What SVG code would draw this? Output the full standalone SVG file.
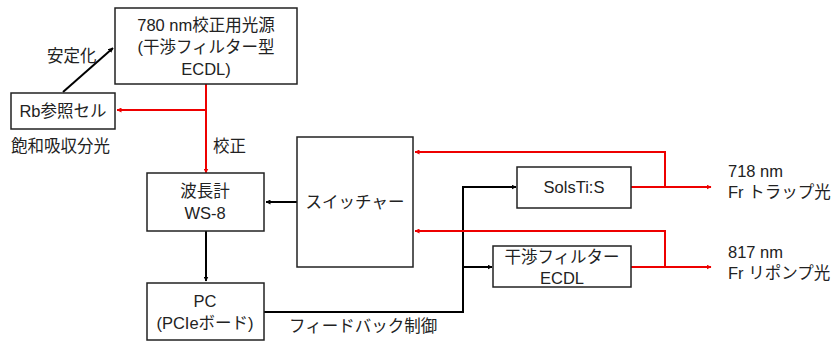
<svg xmlns="http://www.w3.org/2000/svg" width="835" height="341" viewBox="0 0 835 341">
<style>
text{font-family:"Liberation Sans","Noto Sans CJK JP",sans-serif;font-size:16.5px;fill:#222;}
.c{text-anchor:middle;}
.box{fill:#fff;stroke:#222;stroke-width:1.5;}
.k{fill:none;stroke:#000;stroke-width:2;}
.r{fill:none;stroke:#e00;stroke-width:2;}
</style>
<defs>
<marker id="ak" viewBox="0 0 10 10" refX="9" refY="5" markerWidth="5" markerHeight="5" orient="auto" markerUnits="userSpaceOnUse"><path d="M0,0L10,5L0,10z" fill="#000"/></marker>
<marker id="ar" viewBox="0 0 10 10" refX="9" refY="5" markerWidth="5" markerHeight="5" orient="auto" markerUnits="userSpaceOnUse"><path d="M0,0L10,5L0,10z" fill="#e00"/></marker>
</defs>
<g id="connectors">
<path class="k" d="M63,92L113,48" marker-end="url(#ak)"/>
<path class="r" d="M206,84V173" marker-end="url(#ar)"/>
<path class="r" d="M206,110H117" marker-end="url(#ar)"/>
<path class="k" d="M297,202H266" marker-end="url(#ak)"/>
<path class="k" d="M206,231V281" marker-end="url(#ak)"/>
<path class="k" d="M264,312H463V187H516" marker-end="url(#ak)"/>
<path class="k" d="M463,267H492" marker-end="url(#ak)"/>
<path class="r" d="M631,187H711" marker-end="url(#ar)"/>
<path class="r" d="M665,187V152H415" marker-end="url(#ar)"/>
<path class="r" d="M631,267H711" marker-end="url(#ar)"/>
<path class="r" d="M665,267V231H415" marker-end="url(#ar)"/>
</g>
<g id="light780">
<rect class="box" x="115" y="8" width="182" height="76"/>
<text class="c" x="206" y="31">780 nm校正用光源</text>
<text class="c" x="206" y="53">(干渉フィルター型</text>
<text class="c" x="206" y="75">ECDL)</text>
</g>
<g id="rb">
<rect class="box" x="11" y="93" width="104" height="36"/>
<text class="c" x="63" y="117">Rb参照セル</text>
</g>
<g id="labels">
<text x="47" y="62">安定化</text>
<text x="11" y="152">飽和吸収分光</text>
<text x="213" y="152">校正</text>
<text x="289" y="332">フィードバック制御</text>
</g>
<g id="ws8">
<rect class="box" x="147" y="173" width="117" height="58"/>
<text class="c" x="205" y="197">波長計</text>
<text class="c" x="205" y="219">WS-8</text>
</g>
<g id="switcher">
<rect class="box" x="297" y="137" width="116" height="130"/>
<text class="c" x="355" y="208">スイッチャー</text>
</g>
<g id="pc">
<rect class="box" x="147" y="283" width="117" height="57"/>
<text class="c" x="205" y="307">PC</text>
<text class="c" x="205" y="329">(PCIeボード)</text>
</g>
<g id="solstis">
<rect class="box" x="517" y="167" width="114" height="41"/>
<text class="c" x="574" y="193">SolsTi:S</text>
</g>
<g id="ecdl">
<rect class="box" x="493" y="246" width="138" height="41"/>
<text class="c" x="562" y="263">干渉フィルター</text>
<text class="c" x="562" y="284">ECDL</text>
</g>
<g id="outputs">
<text x="728" y="177">718 nm</text>
<text x="728" y="198">Fr トラップ光</text>
<text x="728" y="258">817 nm</text>
<text x="728" y="279">Fr リポンプ光</text>
</g>
</svg>
